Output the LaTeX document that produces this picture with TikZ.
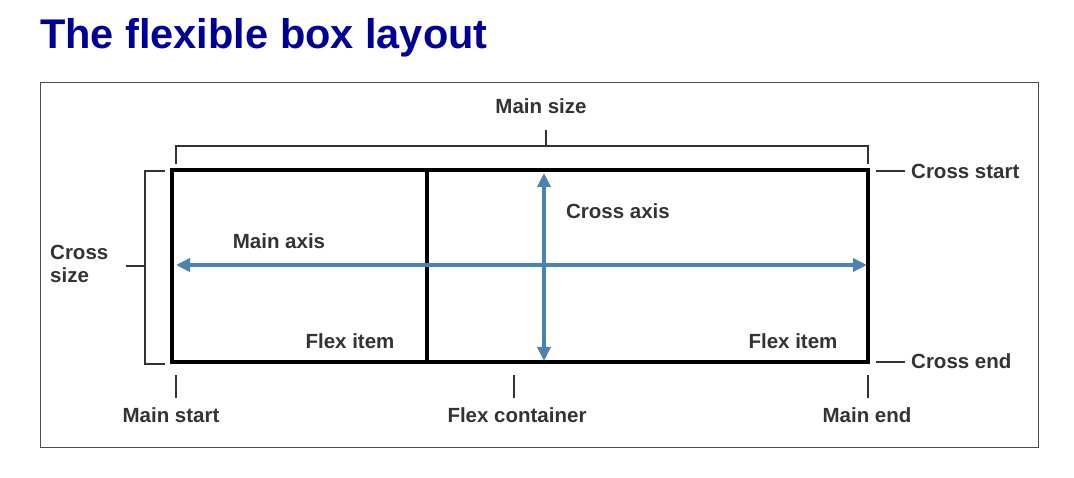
\documentclass[tikz,border=0pt]{standalone}
\usepackage{fontspec}
\setmainfont{Liberation Sans}
\usetikzlibrary{arrows.meta}
\definecolor{ttl}{RGB}{0,0,150}
\definecolor{ax}{RGB}{74,130,180}
\begin{document}
\begin{tikzpicture}[x=1pt,y=-1pt,
  lbl/.style={font=\fontsize{20.5}{23}\selectfont\bfseries, text=black!80, inner sep=0pt},
  thin/.style={draw=black!80, line width=1.2pt},
  axis/.style={draw=ax, line width=3.5pt, {Triangle[length=14pt,width=13pt]}-{Triangle[length=14pt,width=13pt]}}]
\useasboundingbox (0,0) rectangle (1074,478);
\node[anchor=west, inner sep=0pt, text=ttl, font=\fontsize{41.5}{44}\selectfont\bfseries] (title) at (40,38) {The flexible box layout};
\draw[black!70, line width=1pt] (40,83) rectangle (1038,447);
% container
\draw[line width=4pt] (172,170) rectangle (868,362);
\draw[line width=4pt] (427,170) -- (427,362);
% axes
\coordinate (ml) at (176,265); \coordinate (mr) at (867,265);
\coordinate (ct) at (544,173); \coordinate (cb) at (544,361);
\draw[axis] (ml) -- (mr);
\draw[axis] (ct) -- (cb);
% main size bracket
\draw[thin] (176,164) -- (176,146) -- (868,146) -- (868,164);
\draw[thin] (546,146) -- (546,130);
\node[lbl] (ms) at (541,106) {Main size};
% cross size bracket
\draw[thin] (165,171) -- (145,171) -- (145,364) -- (165,364);
\draw[thin] (126,266) -- (145,266);
\node[lbl, align=left, anchor=west] (cs) at (50,264) {Cross\\size};
% cross start/end
\draw[thin] (876,171) -- (905,171);
\node[lbl, anchor=west] (cst) at (911,171) {Cross start};
\draw[thin] (876,362) -- (905,362);
\node[lbl, anchor=west] (cen) at (911,361) {Cross end};
% bottom ticks
\draw[thin] (176,375) -- (176,398);
\draw[thin] (514,375) -- (514,398);
\draw[thin] (868,375) -- (868,398);
\node[lbl] (mst) at (171,415) {Main start};
\node[lbl] (fc) at (517,415) {Flex container};
\node[lbl] (me) at (867,415) {Main end};
% inner labels
\node[lbl] (ma) at (279,241) {Main axis};
\node[lbl] (ca) at (618,211) {Cross axis};
\node[lbl] (f1) at (350,341) {Flex item};
\node[lbl] (f2) at (793,341) {Flex item};
\end{tikzpicture}
\end{document}
